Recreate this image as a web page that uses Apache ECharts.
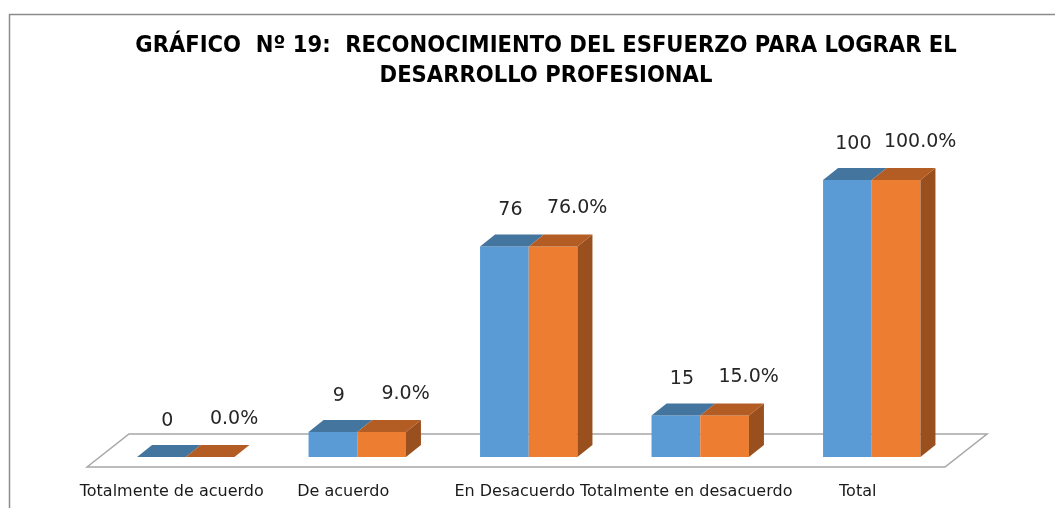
<!DOCTYPE html>
<html>
<head>
<meta charset="utf-8">
<script src="https://cdn.jsdelivr.net/npm/echarts@6/dist/echarts.min.js"></script>
<style>html,body{margin:0;padding:0;background:#fff}#chart{width:1055px;height:508px}</style>
</head>
<body>
<div id="chart"></div>
<script>
const titleText = 'GRÁFICO  Nº 19:  RECONOCIMIENTO DEL ESFUERZO PARA LOGRAR EL\nDESARROLLO PROFESIONAL';
const categories = ['Totalmente de acuerdo', 'De acuerdo', 'En Desacuerdo', 'Totalmente en desacuerdo', 'Total'];
const countValues = [0, 9, 76, 15, 100];
const percentValues = [0, 9, 76, 15, 100];
const countLabels = ['0', '9', '76', '15', '100'];
const percentLabels = ['0.0%', '9.0%', '76.0%', '15.0%', '100.0%'];

const DX = 15, DY = 12;
const styles = [
  {front: '#5b9bd5', top: '#44759f', side: '#3f6f9a', labelDx: 6, labelDy: -36},
  {front: '#ed7d31', top: '#b35c24', side: '#9a501e', labelDx: 24, labelDy: -38}
];

function makeRender(s, labels) {
  return function (params, api) {
    const idx = api.value(0), val = api.value(1);
    const top = api.coord([idx, val]);
    const base = api.coord([idx, 0]);
    const band = api.size([1, 0])[0];
    const w = band * 0.284;
    const x0 = s === 0 ? top[0] - w : top[0];
    const x1 = x0 + w;
    const st = styles[s];
    const children = [];
    if (base[1] - top[1] > 0.5) {
      children.push({type: 'rect', shape: {x: x0, y: top[1], width: w, height: base[1] - top[1]}, style: {fill: st.front}});
      if (s === 1) {
        children.push({type: 'polygon', shape: {points: [[x1, top[1]], [x1 + DX, top[1] - DY], [x1 + DX, base[1] - DY], [x1, base[1]]]}, style: {fill: st.side}});
      }
    }
    children.push({type: 'polygon', shape: {points: [[x0, top[1]], [x0 + DX, top[1] - DY], [x1 + DX, top[1] - DY], [x1, top[1]]]}, style: {fill: st.top}});
    children.push({type: 'text', style: {text: labels[params.dataIndex], x: (x0 + x1) / 2 + st.labelDx, y: top[1] + st.labelDy,
      textAlign: 'center', textVerticalAlign: 'middle', font: '19px "DejaVu Sans"', fill: '#262626'}});
    return {type: 'group', children: children};
  };
}

const chart = echarts.init(document.getElementById('chart'), null, {renderer: 'canvas'});
chart.setOption({
  animation: false,
  backgroundColor: '#fff',
  title: {
    text: titleText, left: 541, top: 26, textAlign: 'center',
    textStyle: {fontFamily: '"Liberation Sans Narrow", "DejaVu Sans Condensed", sans-serif', fontWeight: 'bold', fontSize: 23.5, lineHeight: 30, color: '#000'}
  },
  graphic: [
    {type: 'rect', z: -10, shape: {x: 9.5, y: 14.5, width: 1100, height: 600}, style: {fill: 'none', stroke: '#8c8c8c', lineWidth: 1.5}},
    {type: 'polygon', z: -5, shape: {points: [[87, 467], [129, 434], [987, 434], [945, 467]]}, style: {fill: '#fff', stroke: '#a6a6a6', lineWidth: 1.5}}
  ],
  grid: {left: 100, right: 97.5, top: 180, bottom: 51},
  xAxis: {
    type: 'category', data: categories,
    axisLine: {show: false}, axisTick: {show: false}, splitLine: {show: false},
    axisLabel: {margin: 27, fontFamily: '"DejaVu Sans"', fontSize: 16, color: '#1a1a1a', padding: [0, 28, 0, 0], interval: 0}
  },
  yAxis: {type: 'value', min: 0, max: 100, show: false},
  series: [
    {type: 'custom', name: 'Cantidad', renderItem: makeRender(0, countLabels), clip: false, z: 3,
      data: countValues.map((v, i) => [i, v])},
    {type: 'custom', name: 'Porcentaje', renderItem: makeRender(1, percentLabels), clip: false, z: 4,
      data: percentValues.map((v, i) => [i, v])}
  ]
});
</script>
</body>
</html>
